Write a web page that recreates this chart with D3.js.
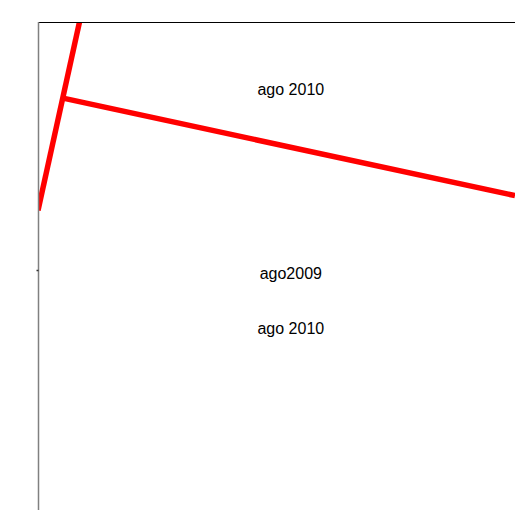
<!DOCTYPE html>
<html>
<head>
    <meta charset="utf-8">
    <title>ago</title>
    <style>
        body { margin: 0; background: #fff; }
    </style>
</head>
<body>
    <script src="https://cdnjs.cloudflare.com/ajax/libs/d3/7.9.0/d3.min.js"></script>
    <script>

        // data (plot units)
        const steepX = [0.0, 0.87];
        const steepY = [6.2, 10.0];
        const branchX = [0.50, 10.0];
        const branchY = [8.47, 6.5];
        const yTicks = [5];
        const labels = ["ago 2010", "ago2009", "ago 2010"];
        const labelX = [5.3, 5.3, 5.3];
        const labelY = [8.53, 4.82, 3.71];

        const width = 515;
        const height = 510;
        const margin = {top: 22, right: -5, bottom: -8, left: 38};

        const svg = d3.select("body")
            .append("svg")
            .attr("width", width)
            .attr("height", height);

        const scaleX = d3.scaleLinear()
            .domain([0, 10])
            .range([margin.left, width - margin.right - 5]);

        const scaleY = d3.scaleLinear()
            .domain([0, 10])
            .range([height - margin.bottom, margin.top]);

        svg.append("clipPath")
            .attr("id", "plot")
            .append("rect")
            .attr("x", margin.left)
            .attr("y", margin.top)
            .attr("width", width - margin.left + 10)
            .attr("height", height - margin.top + 10);

        const line = d3.line()
            .x(d => scaleX(d[0]))
            .y(d => scaleY(d[1]));

        const series = [d3.zip(steepX, steepY), d3.zip(branchX, branchY)];

        svg.append("g")
            .attr("clip-path", "url(#plot)")
            .selectAll("path")
            .data(series)
            .enter()
            .append("path")
            .attr("d", line)
            .attr("fill", "none")
            .attr("stroke", "red")
            .attr("stroke-width", 5.5);

        // top border
        svg.append("line")
            .attr("x1", margin.left)
            .attr("x2", width)
            .attr("y1", margin.top + 0.5)
            .attr("y2", margin.top + 0.5)
            .attr("stroke", "black")
            .attr("stroke-width", 1);

        // left axis, gray with one small tick
        const yAxis = svg.append("g")
            .attr("transform", `translate(${margin.left + 0.5},0)`)
            .call(d3.axisLeft(scaleY).tickValues(yTicks).tickSize(2).tickFormat(""));
        yAxis.select(".domain")
            .attr("d", `M0,${margin.top}V${height}`)
            .attr("stroke", "#808080")
            .attr("stroke-width", 1.5);
        yAxis.selectAll(".tick line")
            .attr("stroke", "#333")
            .attr("stroke-width", 1.5);

        svg.append("g")
            .selectAll("text")
            .data(labels)
            .enter()
            .append("text")
            .attr("x", (d, i) => scaleX(labelX[i]))
            .attr("y", (d, i) => scaleY(labelY[i]))
            .attr("text-anchor", "middle")
            .attr("font-family", "Liberation Sans, Arial, sans-serif")
            .attr("font-size", "16px")
            .attr("fill", "#000")
            .text(d => d);

    </script>
</body>
</html>
